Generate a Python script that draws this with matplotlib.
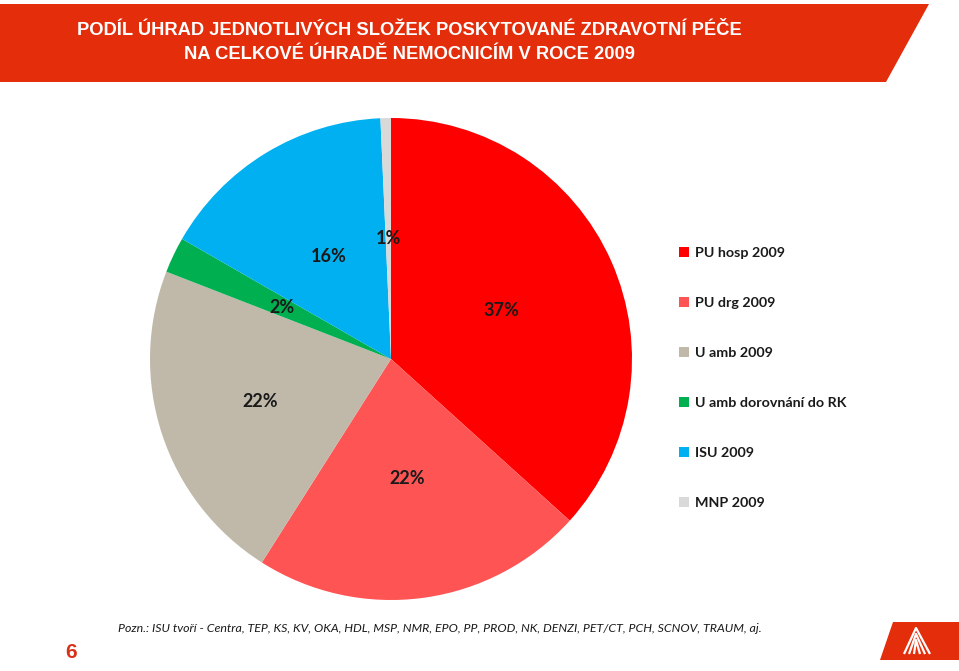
import numpy as np
import matplotlib.pyplot as plt
from matplotlib.patches import Polygon

# data
labels = ['PU hosp 2009', 'PU drg 2009', 'U amb 2009', 'U amb dorovnání do RK', 'ISU 2009', 'MNP 2009']
shares = [36.7, 22.3, 21.9, 2.4, 16.0, 0.7]
pct_text = ['37%', '22%', '22%', '2%', '16%', '1%']
colors = ['#FF0000', '#FF5454', '#C0B9AA', '#00B050', '#00B0F0', '#D9D9D9']

title = ('PODÍL ÚHRAD JEDNOTLIVÝCH SLOŽEK POSKYTOVANÉ ZDRAVOTNÍ PÉČE\n'
         'NA CELKOVÉ ÚHRADĚ NEMOCNICÍM V ROCE 2009')
note = ('Pozn.: ISU tvoří - Centra, TEP, KS, KV, OKA, HDL, MSP, NMR, EPO, PP, PROD, '
        'NK, DENZI, PET/CT, PCH, SCNOV, TRAUM, aj.')
page_no = '6'

W, H = 959, 671
fig = plt.figure(figsize=(W / 100, H / 100), dpi=100)
fig.patch.set_facecolor('white')

# background axes in pixel coords for header / footer shapes
bg = fig.add_axes([0, 0, 1, 1])
bg.set_xlim(0, W)
bg.set_ylim(H, 0)
bg.axis('off')

header_red = '#E32D0B'
bg.add_patch(Polygon([[0, 4], [929, 4], [886, 82], [0, 82]], closed=True,
                     facecolor=header_red, edgecolor='none'))
bg.text(409, 42.5, title, ha='center', va='center', color='white',
        fontsize=13.2, fontweight='bold', linespacing=1.5,
        family=['Liberation Sans Narrow', 'Liberation Sans', 'DejaVu Sans'])

# logo box bottom right
bg.add_patch(Polygon([[893, 622], [959, 622], [959, 660], [880, 660]], closed=True,
                     facecolor=header_red, edgecolor='none'))
for off in (0, 5, 10):
    bg.plot([904 + off, 916, 930 - off], [654, 628 + off * 1.2, 654],
            color='white', lw=1.6, solid_capstyle='butt')

bg.text(118, 629, note, ha='left', va='center', fontsize=8.95, style='italic',
        color='#1a1a1a', family=['Lato', 'DejaVu Sans'])
bg.text(71, 652, page_no, ha='center', va='center', fontsize=15,
        fontweight='bold', color='#D9301A', family=['Liberation Sans', 'DejaVu Sans'])

# pie
R = 241
cx, cy = 391, 359
ax = fig.add_axes([(cx - R) / W, (H - cy - R) / H, 2 * R / W, 2 * R / H])
wedges, _ = ax.pie(shares, colors=colors, startangle=90, counterclock=False,
                   radius=1.0, wedgeprops=dict(linewidth=0))
ax.set_xlim(-1, 1)
ax.set_ylim(-1, 1)
ax.set_aspect('equal')
ax.axis('off')

dist = [0.5, 0.5, 0.57, 0.5, 0.5, 0.5]
for w, t, d in zip(wedges, pct_text, dist):
    ang = np.deg2rad((w.theta1 + w.theta2) / 2)
    ax.text(d * np.cos(ang), d * np.sin(ang), t, ha='center', va='center',
            fontsize=13, fontweight='bold', color='#1a1a1a',
            family=['Lato', 'DejaVu Sans'])

# legend
leg = fig.legend(wedges, labels, loc='upper left', bbox_to_anchor=(666 / W, 1 - 234 / H),
                 frameon=False, handlelength=0.7, handleheight=0.7, handletextpad=0.4,
                 labelspacing=2.66, prop=dict(family=['Lato', 'DejaVu Sans'],
                                              size=10.3, weight='bold'))
for txt in leg.get_texts():
    txt.set_color('#1a1a1a')

fig.savefig('out.png', dpi=100)
